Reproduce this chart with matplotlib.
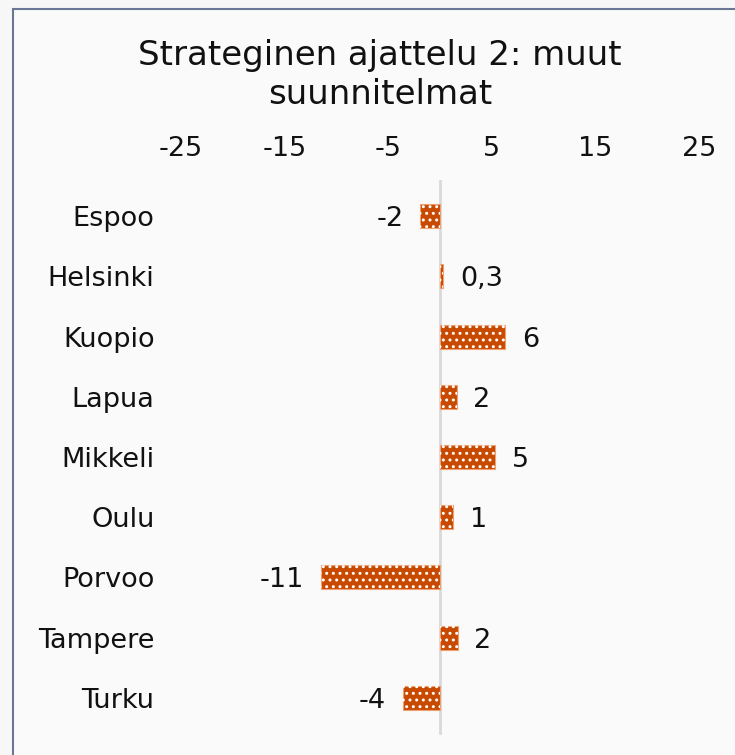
import matplotlib
matplotlib.use("Agg")
import matplotlib.pyplot as plt
from matplotlib.patches import Rectangle

categories = ["Espoo", "Helsinki", "Kuopio", "Lapua", "Mikkeli", "Oulu", "Porvoo", "Tampere", "Turku"]
values = [-1.9, 0.3, 6.3, 1.6, 5.3, 1.3, -11.5, 1.7, -3.6]
value_labels = ["-2", "0,3", "6", "2", "5", "1", "-11", "2", "-4"]
x_ticks = [-25, -15, -5, 5, 15, 25]
title = "Strateginen ajattelu 2: muut\nsuunnitelmat"

W, H = 735, 755
DPI = 120
k = 100 / DPI  # keep point sizes as designed for 100 dpi


def s(v):
    return v * k


fig = plt.figure(figsize=(W / DPI, H / DPI), dpi=DPI, facecolor="#f7f7f7")
frame = Rectangle((13 / W, -0.1), 1.2, 1 - 9 / H + 0.1, transform=fig.transFigure,
                  facecolor="#fafafa", edgecolor="#6a7896", linewidth=s(1.5), zorder=-10)
fig.patches.append(frame)

ax = fig.add_axes([181 / W, 27 / H, 518 / W, 542 / H])
ax.set_zorder(5)
ax.set_facecolor("none")
ypos = list(range(len(categories)))
bar_color = "#c84a00"
ax.barh(ypos, values, height=0.4, color=bar_color, edgecolor="#f0a070", linewidth=s(0.8), zorder=2)
plt.rcParams["hatch.linewidth"] = s(1.2)
ax.barh(ypos, values, height=0.4, facecolor="none", edgecolor="white", hatch="...", linewidth=0, zorder=3)
ax.axvline(0, color="#d9d9d9", linewidth=s(2), ymin=-0.01, ymax=1.01, zorder=1, clip_on=False)

ax.set_xlim(-25, 25)
ax.set_ylim(len(categories) - 0.5, -0.5)
ax.set_xticks(x_ticks)
ax.set_xticklabels([str(t) for t in x_ticks])
ax.xaxis.tick_top()
ax.set_yticks(ypos)
ax.set_yticklabels(categories)
ax.tick_params(axis="x", length=0, pad=s(17.5), labelsize=s(19.5), colors="#111111")
ax.tick_params(axis="y", length=0, pad=s(19), labelsize=s(19.5), colors="#111111")
for sp in ax.spines.values():
    sp.set_visible(False)

for y, v, lab in zip(ypos, values, value_labels):
    if v >= 0:
        ax.annotate(lab, (v, y), xytext=(s(12), 0), textcoords="offset points",
                    ha="left", va="center_baseline", fontsize=s(19.5), color="#111111")
    else:
        ax.annotate(lab, (v, y), xytext=(-s(12), 0), textcoords="offset points",
                    ha="right", va="center_baseline", fontsize=s(19.5), color="#111111")

fig.text(380 / W, 1 - 75 / H, title, ha="center", va="center", fontsize=s(24.5),
         color="#111111", linespacing=1.25, zorder=6)

fig.savefig("out.png", dpi=DPI, facecolor=fig.get_facecolor())
